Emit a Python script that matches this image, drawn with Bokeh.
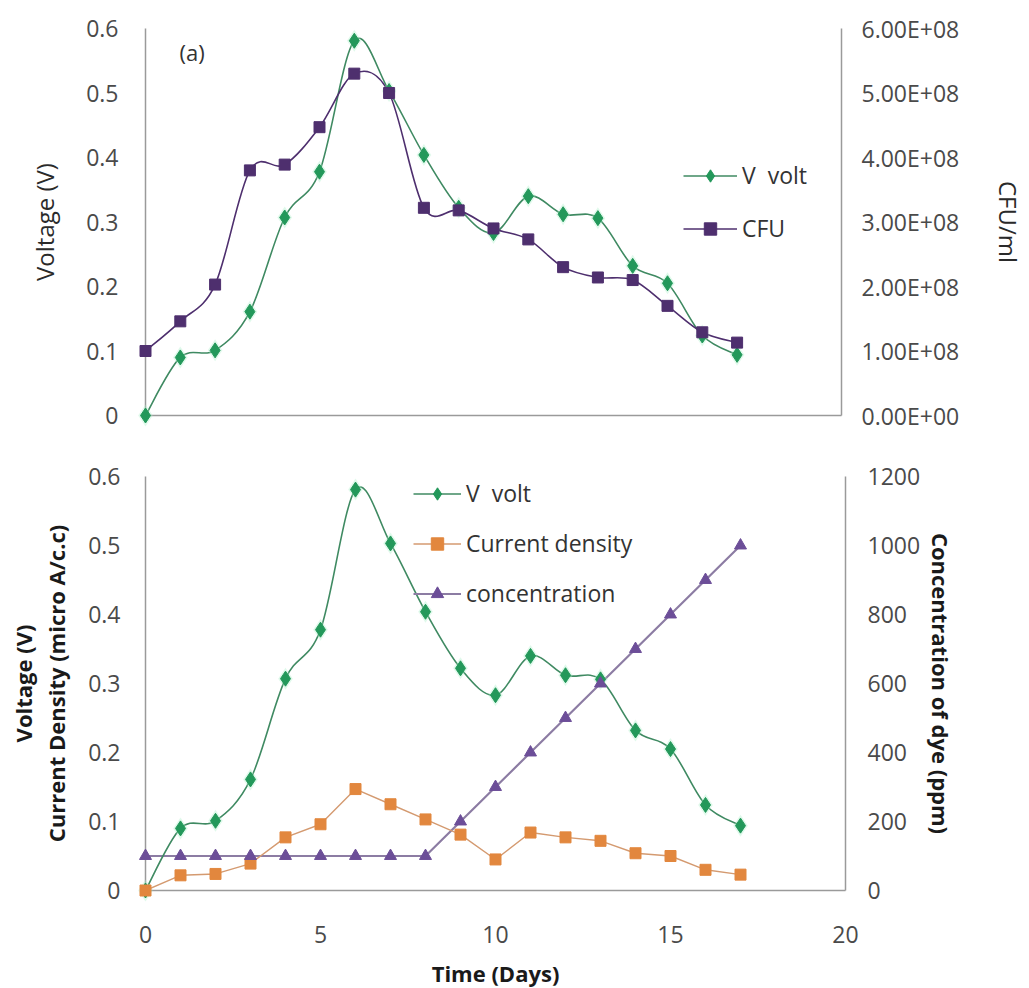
from bokeh.plotting import figure
from bokeh.models import (Range1d, LinearAxis, FixedTicker, CustomJSTickFormatter,
                          Legend, LegendItem, Label)
from bokeh.layouts import column
from bokeh.embed import file_html
from bokeh.resources import INLINE

# ---------------- data ----------------
days = [0, 1, 2, 3, 4, 5, 6, 7, 8, 9, 10, 11, 12, 13, 14, 15, 16, 17]
volt = [0.0, 0.090, 0.101, 0.161, 0.307, 0.378, 0.581, 0.503, 0.404, 0.322,
        0.283, 0.340, 0.312, 0.306, 0.232, 0.205, 0.124, 0.094]
cfu = [1.00e8, 1.46e8, 2.03e8, 3.80e8, 3.89e8, 4.47e8, 5.30e8, 5.00e8, 3.22e8,
       3.18e8, 2.90e8, 2.73e8, 2.30e8, 2.14e8, 2.10e8, 1.70e8, 1.29e8, 1.13e8]
current_density = [0.0, 0.022, 0.024, 0.039, 0.077, 0.096, 0.147, 0.125, 0.103,
                   0.081, 0.045, 0.084, 0.077, 0.072, 0.054, 0.050, 0.030, 0.023]
concentration = [100, 100, 100, 100, 100, 100, 100, 100, 100,
                 200, 300, 400, 500, 600, 700, 800, 900, 1000]

left_ticks = [0, 0.1, 0.2, 0.3, 0.4, 0.5, 0.6]
cfu_ticks = [0, 1e8, 2e8, 3e8, 4e8, 5e8, 6e8]
conc_ticks = [0, 200, 400, 600, 800, 1000, 1200]
x_ticks = [0, 5, 10, 15, 20]

FONT = "Open Sans"
TICK_SIZE = "23px"
TICK_COLOR = "#4a4a4a"
AXIS_COLOR = "#9a9a9a"
GREEN = "#23985a"
GREEN_LINE = "#3f8a62"
PURPLE = "#4e2f6e"
ORANGE = "#e2873e"
ORANGE_LINE = "#d49a70"
TRI = "#6c4e98"
TRI_LINE = "#8c7ca3"


def smooth(xs, ys):
    """Excel-like smoothed line: cubic bezier segments through the points."""
    n = len(xs)
    out = dict(x0=[], y0=[], x1=[], y1=[], cx0=[], cy0=[], cx1=[], cy1=[])
    for i in range(n - 1):
        xp, yp = (xs[i - 1], ys[i - 1]) if i > 0 else (xs[i], ys[i])
        xn, yn = (xs[i + 2], ys[i + 2]) if i + 2 < n else (xs[i + 1], ys[i + 1])
        out["x0"].append(xs[i]); out["y0"].append(ys[i])
        out["x1"].append(xs[i + 1]); out["y1"].append(ys[i + 1])
        out["cx0"].append(xs[i] + (xs[i + 1] - xp) / 6.0)
        out["cy0"].append(ys[i] + (ys[i + 1] - yp) / 6.0)
        out["cx1"].append(xs[i + 1] - (xn - xs[i]) / 6.0)
        out["cy1"].append(ys[i + 1] - (yn - ys[i]) / 6.0)
    return out


def style_axis(ax):
    ax.axis_line_color = AXIS_COLOR
    ax.axis_line_width = 1.5
    ax.major_tick_line_color = None
    ax.minor_tick_line_color = None
    ax.major_tick_in = 0
    ax.major_tick_out = 0
    ax.major_label_text_font = FONT
    ax.major_label_text_font_size = TICK_SIZE
    ax.major_label_text_color = TICK_COLOR
    ax.axis_label_text_font = FONT
    ax.axis_label_text_font_style = "normal"


dec_fmt = CustomJSTickFormatter(code="return (Math.round(tick*10)/10).toString();")
exp_fmt = CustomJSTickFormatter(code="""
let s = tick.toExponential(2).toUpperCase();
return s.replace(/E([+-])(\\d)$/, 'E$10$2');
""")

# ---------------- top panel ----------------
top = figure(frame_width=696, frame_height=387, x_range=Range1d(0, 20),
             y_range=Range1d(0, 0.6), output_backend="svg", toolbar_location=None,
             min_border_left=145, min_border_right=180, min_border_top=28,
             min_border_bottom=35)
top.outline_line_color = None
top.grid.visible = False
top.extra_y_ranges = {"cfu": Range1d(0, 6e8)}

style_axis(top.xaxis[0])
top.xaxis[0].ticker = FixedTicker(ticks=x_ticks)
top.xaxis[0].major_label_text_color = None

yl = top.yaxis[0]
style_axis(yl)
yl.ticker = FixedTicker(ticks=left_ticks)
yl.formatter = dec_fmt
yl.major_label_standoff = 27
yl.axis_label = "Voltage (V)"
yl.axis_label_text_font_size = "24px"
yl.axis_label_text_color = "#2a2a2a"
yl.axis_label_standoff = 22

yr = LinearAxis(y_range_name="cfu", ticker=FixedTicker(ticks=cfu_ticks), formatter=exp_fmt)
style_axis(yr)
yr.major_label_standoff = 20
yr.axis_label = "CFU/ml"
yr.axis_label_text_font_size = "24px"
yr.axis_label_text_color = "#2a2a2a"
yr.axis_label_standoff = 30
top.add_layout(yr, "right")

sv = smooth(days, volt)
sc = smooth(days, cfu)
top.bezier(line_color=GREEN_LINE, line_width=1.6, **sv)
top.bezier(line_color=PURPLE, line_width=1.6, y_range_name="cfu", **sc)
top.scatter(days, volt, marker="diamond", size=22, fill_color="#a6efc6",
            fill_alpha=0.35, line_color=None, level="overlay")
v_mark = top.scatter(days, volt, marker="diamond", size=15, fill_color=GREEN,
                     line_color=GREEN, level="overlay")
c_mark = top.scatter(days, cfu, marker="square", size=11, fill_color=PURPLE,
                     line_color=PURPLE, y_range_name="cfu", level="overlay")
# off-range line renderers, only used to draw the line part of legend glyphs
v_leg = top.line([-5, -4], [-1, -1], line_color=GREEN_LINE, line_width=1.6)
c_leg = top.line([-5, -4], [-1, -1], line_color=PURPLE, line_width=1.6)

leg_top = Legend(items=[LegendItem(label="V  volt", renderers=[v_leg, v_mark]),
                        LegendItem(label="CFU", renderers=[c_leg, c_mark])],
                 location=(538, 171), glyph_width=54, glyph_height=31,
                 label_height=31, spacing=21, padding=0, margin=0,
                 label_standoff=5, border_line_color=None,
                 background_fill_alpha=0, label_text_font=FONT,
                 label_text_font_size="23px", label_text_color="#333333")
top.add_layout(leg_top)
top.add_layout(Label(x=34, y=364, x_units="screen", y_units="screen", text="(a)",
                     text_font=FONT, text_font_size="22px", text_color="#333333",
                     text_baseline="middle"))

# ---------------- bottom panel ----------------
bot = figure(frame_width=700, frame_height=414, x_range=Range1d(0, 20),
             y_range=Range1d(0, 0.6), output_backend="svg", toolbar_location=None,
             min_border_left=140, min_border_right=181, min_border_top=26,
             min_border_bottom=90)
bot.outline_line_color = None
bot.grid.visible = False
bot.extra_y_ranges = {"conc": Range1d(0, 1200)}

xb = bot.xaxis[0]
style_axis(xb)
xb.ticker = FixedTicker(ticks=x_ticks)
xb.major_label_standoff = 35
xb.axis_label = "Time (Days)"
xb.axis_label_text_font_size = "22px"
xb.axis_label_text_font_style = "bold"
xb.axis_label_text_color = "#1a1a1a"
xb.axis_label_standoff = 12

yb = bot.yaxis[0]
style_axis(yb)
yb.ticker = FixedTicker(ticks=left_ticks)
yb.formatter = dec_fmt
yb.major_label_standoff = 25
yb.axis_label = "Current Density (micro A/c.c)"
yb.axis_label_text_font_size = "22px"
yb.axis_label_text_font_style = "bold"
yb.axis_label_text_color = "#1a1a1a"
yb.axis_label_standoff = 14

yb2 = LinearAxis(ticker=FixedTicker(ticks=[]), axis_line_color=None,
                 major_tick_line_color=None, minor_tick_line_color=None,
                 major_label_standoff=0, axis_label="Voltage (V)",
                 axis_label_standoff=1, axis_label_text_font=FONT,
                 axis_label_text_font_size="22px", axis_label_text_font_style="bold",
                 axis_label_text_color="#1a1a1a")
bot.add_layout(yb2, "left")

yc = LinearAxis(y_range_name="conc", ticker=FixedTicker(ticks=conc_ticks))
style_axis(yc)
yc.major_label_standoff = 22
yc.axis_label = "Concentration of dye (ppm)"
yc.axis_label_text_font_size = "22px"
yc.axis_label_text_font_style = "bold"
yc.axis_label_text_color = "#1a1a1a"
yc.axis_label_standoff = 3
bot.add_layout(yc, "right")

bot.line(days, concentration, line_color=TRI_LINE, line_width=2.2, y_range_name="conc")
bot.line(days, current_density, line_color=ORANGE_LINE, line_width=1.4)
bot.bezier(line_color=GREEN_LINE, line_width=1.6, **smooth(days, volt))

bot.scatter(days, volt, marker="diamond", size=22, fill_color="#a6efc6",
            fill_alpha=0.35, line_color=None, level="overlay")
bv_mark = bot.scatter(days, volt, marker="diamond", size=15, fill_color=GREEN,
                      line_color=GREEN, level="overlay")
bc_mark = bot.scatter(days, current_density, marker="square", size=11,
                      fill_color=ORANGE, line_color=ORANGE, level="overlay")
bt_mark = bot.scatter(days, concentration, marker="triangle", size=12,
                      fill_color=TRI, line_color=TRI, y_range_name="conc",
                      level="overlay")
bv_leg = bot.line([-5, -4], [-1, -1], line_color=GREEN_LINE, line_width=1.6)
bc_leg = bot.line([-5, -4], [-1, -1], line_color=ORANGE_LINE, line_width=1.4)
bt_leg = bot.line([-5, -4], [-1, -1], line_color=TRI_LINE, line_width=2.2)

leg_bot = Legend(items=[LegendItem(label="V  volt", renderers=[bv_leg, bv_mark]),
                        LegendItem(label="Current density", renderers=[bc_leg, bc_mark]),
                        LegendItem(label="concentration", renderers=[bt_leg, bt_mark])],
                 location=(268, 281), glyph_width=48, glyph_height=31,
                 label_height=31, spacing=18, padding=0, margin=0,
                 label_standoff=5, border_line_color=None,
                 background_fill_alpha=0, label_text_font=FONT,
                 label_text_font_size="23px", label_text_color="#333333")
bot.add_layout(leg_bot)

layout = column(top, bot, spacing=0)
open("out.html", "w").write(file_html(layout, INLINE))
